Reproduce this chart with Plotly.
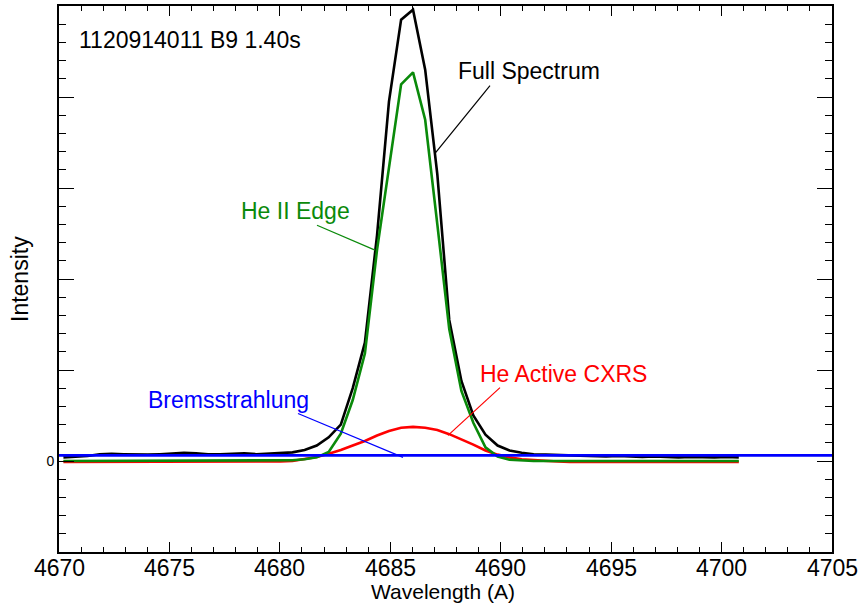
import plotly.graph_objects as go

# ---------------- data ----------------
wavelength = [4670.20, 4670.75, 4671.29, 4671.84, 4672.38, 4672.93, 4673.48, 4674.02,
              4674.57, 4675.11, 4675.66, 4676.21, 4676.75, 4677.30, 4677.84, 4678.39,
              4678.94, 4679.48, 4680.03, 4680.57, 4681.12, 4681.67, 4682.21, 4682.76,
              4683.30, 4683.85, 4684.40, 4684.94, 4685.49, 4686.03, 4686.58, 4687.13,
              4687.67, 4688.22, 4688.76, 4689.31, 4689.86, 4690.40, 4690.95, 4691.49,
              4692.04, 4692.59, 4693.13, 4693.68, 4694.22, 4694.77, 4695.32, 4695.86,
              4696.41, 4696.95, 4697.50, 4698.05, 4698.59, 4699.14, 4699.68, 4700.23,
              4700.78]

full_spectrum = [0.040, 0.045, 0.055, 0.075, 0.080, 0.075, 0.070, 0.070,
                 0.075, 0.085, 0.090, 0.085, 0.075, 0.075, 0.080, 0.085,
                 0.075, 0.080, 0.085, 0.095, 0.120, 0.170, 0.260, 0.400,
                 0.800, 1.300, 2.480, 3.950, 4.850, 4.960, 4.300, 3.150,
                 1.550, 0.880, 0.500, 0.290, 0.170, 0.115, 0.090, 0.075,
                 0.070, 0.065, 0.060, 0.060, 0.055, 0.050, 0.055, 0.050,
                 0.045, 0.050, 0.045, 0.040, 0.045, 0.040, 0.040, 0.045,
                 0.040]

he_ii_edge = [0.0, 0.0, 0.0, 0.0, 0.0, 0.0, 0.0, 0.0,
              0.0, 0.0, 0.0, 0.0, 0.0, 0.0, 0.0, 0.0,
              0.0, 0.0, 0.003, 0.008, 0.020, 0.040, 0.100, 0.300,
              0.670, 1.180, 2.320, 3.200, 4.140, 4.270, 3.750, 2.600,
              1.450, 0.770, 0.420, 0.150, 0.050, 0.015, 0.005, 0.0,
              0.0, 0.0, 0.0, 0.0, 0.0, 0.0, 0.0, 0.0,
              0.0, 0.0, 0.0, 0.0, 0.0, 0.0, 0.0, 0.0,
              0.0]

he_active_cxrs = [-0.010, -0.010, -0.010, -0.010, -0.010, -0.010, -0.010, -0.010,
                  -0.010, -0.010, -0.010, -0.010, -0.010, -0.010, -0.010, -0.010,
                  -0.010, -0.010, -0.005, 0.000, 0.020, 0.045, 0.080, 0.120,
                  0.170, 0.220, 0.280, 0.330, 0.365, 0.375, 0.365, 0.340,
                  0.295, 0.240, 0.180, 0.115, 0.070, 0.040, 0.020, 0.010,
                  0.000, -0.005, -0.010, -0.010, -0.010, -0.010, -0.010, -0.010,
                  -0.010, -0.010, -0.010, -0.010, -0.010, -0.010, -0.010, -0.010,
                  -0.010]

brems_wavelength = [4670.0, 4705.0]
bremsstrahlung = [0.062, 0.062]

y_tickvals = [-1, 0, 1, 2, 3, 4, 5]
y_ticktext = ["", "0", "", "", "", "", ""]
x_tickvals = [4670, 4675, 4680, 4685, 4690, 4695, 4700, 4705]
x_ticktext = ["4670", "4675", "4680", "4685", "4690", "4695", "4700", "4705"]

# ---------------- layout helpers (pixel -> paper) ----------------
W, H = 859, 604
L, R, T, B = 59, 832, 4, 552


def px(x):
    return (x - L) / (R - L)


def py(y):
    return (B - y) / (B - T)


BLACK = "#000000"
GREEN = "#0a8a0a"
RED = "#ff0000"
BLUE = "#0000ff"
FONT = "Liberation Sans, Arial, Helvetica, sans-serif"

fig = go.Figure()
fig.add_trace(go.Scatter(x=wavelength, y=full_spectrum, mode="lines",
                         line=dict(color=BLACK, width=2.6), showlegend=False))
fig.add_trace(go.Scatter(x=wavelength, y=he_active_cxrs, mode="lines",
                         line=dict(color=RED, width=2.6), showlegend=False))
fig.add_trace(go.Scatter(x=wavelength, y=he_ii_edge, mode="lines",
                         line=dict(color=GREEN, width=2.6), showlegend=False))
fig.add_trace(go.Scatter(x=brems_wavelength, y=bremsstrahlung, mode="lines",
                         line=dict(color=BLUE, width=2.6), showlegend=False))

annotations = [
    dict(text="1120914011 B9 1.40s", x=px(77), y=py(38), xanchor="left", yanchor="middle",
         font=dict(size=23, color=BLACK)),
    dict(text="Full Spectrum", x=px(456), y=py(69), xanchor="left", yanchor="middle",
         font=dict(size=23, color=BLACK)),
    dict(text="He II Edge", x=px(239), y=py(210), xanchor="left", yanchor="middle",
         font=dict(size=23, color=GREEN)),
    dict(text="He Active CXRS", x=px(478), y=py(373), xanchor="left", yanchor="middle",
         font=dict(size=23, color=RED)),
    dict(text="Bremsstrahlung", x=px(146), y=py(399), xanchor="left", yanchor="middle",
         font=dict(size=23, color=BLUE)),
    dict(text="Intensity", x=px(20), y=py(278), xanchor="center", yanchor="middle",
         textangle=-90, font=dict(size=23, color=BLACK)),
    dict(text="Wavelength (A)", x=px(443), y=py(592), xanchor="center", yanchor="middle",
         font=dict(size=21, color=BLACK)),
]
for a in annotations:
    a.update(xref="paper", yref="paper", showarrow=False)

# x tick labels placed as annotations on the data axis so they sit close to the frame
for v, t in zip(x_tickvals, x_ticktext):
    annotations.append(dict(text=t, x=v, xref="x", y=py(568), yref="paper",
                            xanchor="center", yanchor="middle", showarrow=False,
                            font=dict(size=23, color=BLACK)))
for a in annotations:
    a["font"]["family"] = FONT

leaders = [
    ((490, 84), (435, 152), BLACK),
    ((317, 224), (375, 249), GREEN),
    ((298, 413), (403, 457), BLUE),
    ((448, 435), (500, 387), RED),
]
shapes = []
for (x0, y0), (x1, y1), c in leaders:
    shapes.append(dict(type="line", xref="paper", yref="paper",
                       x0=px(x0), y0=py(y0), x1=px(x1), y1=py(y1),
                       line=dict(color=c, width=1.2)))

fig.update_layout(
    width=W, height=H,
    margin=dict(l=L, r=W - R, t=T, b=H - B, pad=0),
    paper_bgcolor="white", plot_bgcolor="white",
    font=dict(family=FONT, color=BLACK),
    annotations=annotations, shapes=shapes,
    showlegend=False,
)
fig.update_xaxes(
    range=[4670, 4705], tickvals=x_tickvals, showticklabels=False, ticks="inside",
    ticklen=10, tickwidth=1.2,
    tickcolor=BLACK, showline=True, linecolor=BLACK, linewidth=1.6, mirror="allticks",
    showgrid=False, zeroline=False,
    minor=dict(dtick=1, ticks="inside", ticklen=5, tickwidth=1.2, tickcolor=BLACK, showgrid=False),
)
fig.update_yaxes(
    range=[-1, 5], tickvals=y_tickvals, ticktext=y_ticktext, ticks="inside", ticklen=15,
    tickwidth=1.2, tickcolor=BLACK, showline=True, linecolor=BLACK, linewidth=1.6,
    mirror="allticks", showgrid=False, zeroline=False, tickfont=dict(size=14, color=BLACK),
    minor=dict(dtick=0.2, ticks="inside", ticklen=7, tickwidth=1.2, tickcolor=BLACK, showgrid=False),
)

fig.write_html("out.html")
